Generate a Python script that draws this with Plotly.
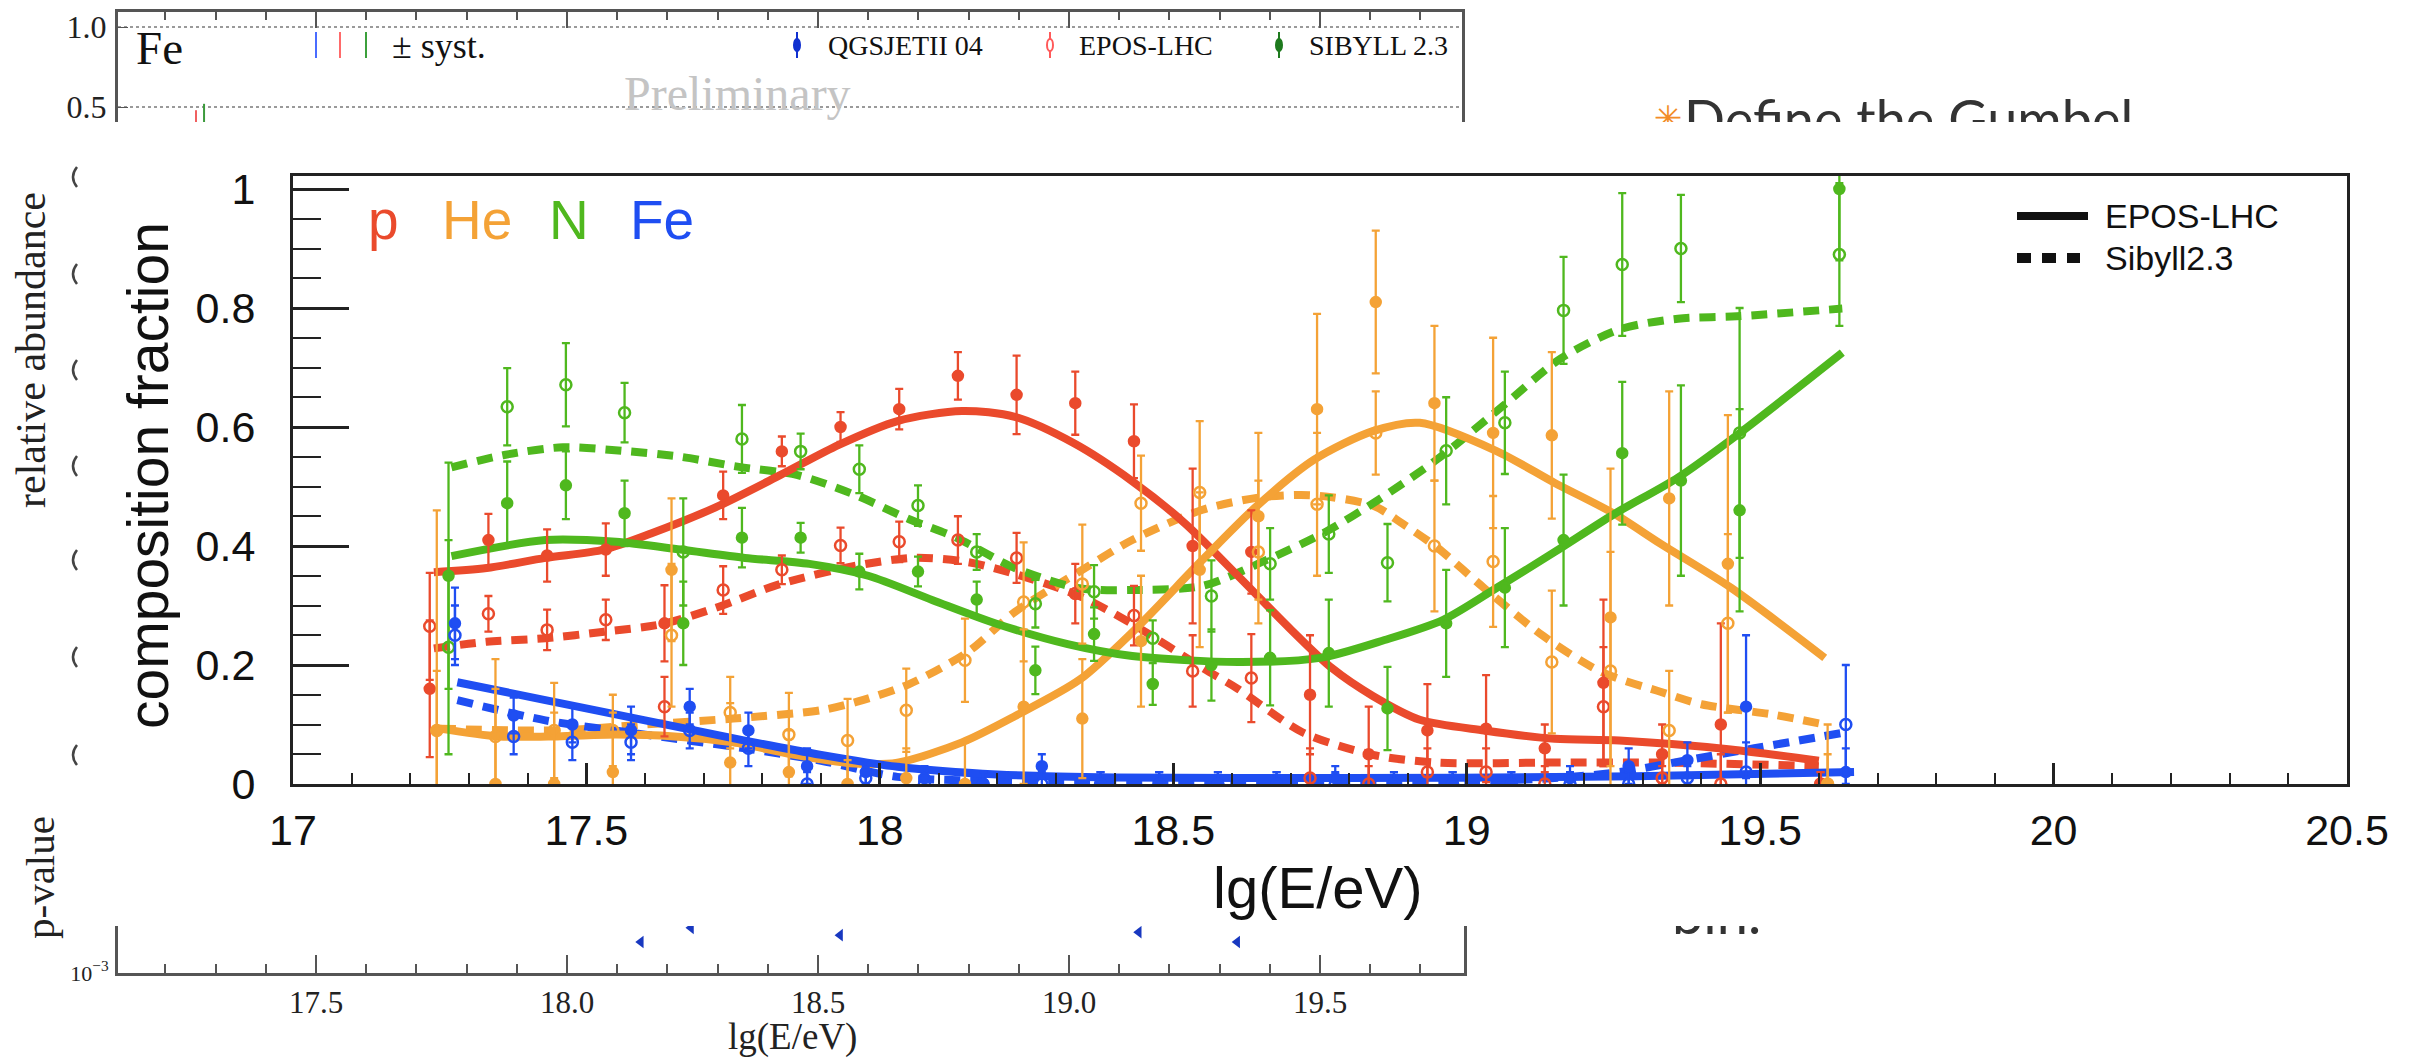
import plotly.graph_objects as go

W, H = 2418, 1058

# ---------------- overlay chart: composition fractions ----------------
lgE = [17.25, 17.35, 17.45, 17.55, 17.65, 17.75, 17.85, 17.95, 18.05, 18.15,
       18.25, 18.35, 18.45, 18.55, 18.65, 18.75, 18.85, 18.95, 19.05, 19.15,
       19.25, 19.35, 19.45, 19.62]

p_epos = [0.16, 0.41, 0.384, 0.394, 0.27, 0.485, 0.559, 0.60, 0.63, 0.686, 0.654, 0.64,
          0.576, 0.40, 0.39, 0.15, 0.05, 0.09, 0.093, 0.06, 0.17, 0.05, 0.10, 0.0]
p_epos_err = [0.115, 0.044, 0.044, 0.044, 0.064, 0.04, 0.025, 0.025, 0.034, 0.04, 0.066, 0.053,
              0.062, 0.13, 0.07, 0.1, 0.08, 0.078, 0.09, 0.04, 0.14, 0.05, 0.17, 0.02]
p_sib = [0.265, 0.286, 0.259, 0.276, 0.13, 0.326, 0.36, 0.401, 0.407, 0.41, 0.38, 0.32,
         0.283, 0.19, 0.178, 0.01, 0.0, 0.02, 0.02, 0.0, 0.13, 0.01, 0.0, 0.0]
p_sib_err = [0.09, 0.03, 0.034, 0.034, 0.05, 0.04, 0.024, 0.03, 0.034, 0.04, 0.042, 0.05,
             0.05, 0.06, 0.074, 0.05, 0.03, 0.04, 0.04, 0.03, 0.1, 0.02, 0.05, 0.02]

he_epos = [0.09, 0.0, 0.0, 0.02, 0.36, 0.036, 0.02, 0.0, 0.01, 0.0, 0.13, 0.11,
           0.24, 0.36, 0.45, 0.63, 0.81, 0.64, 0.59, 0.586, 0.28, 0.48, 0.37, 0.0]
he_epos_err = [0.37, 0.21, 0.12, 0.1, 0.12, 0.1, 0.07, 0.04, 0.05, 0.07, 0.13, 0.1,
               0.11, 0.13, 0.14, 0.16, 0.12, 0.13, 0.16, 0.14, 0.25, 0.18, 0.25, 0.1]
he_sib = [0.09, 0.08, 0.09, 0.09, 0.25, 0.12, 0.083, 0.073, 0.124, 0.208, 0.306, 0.336,
          0.472, 0.49, 0.39, 0.47, 0.59, 0.40, 0.374, 0.205, 0.19, 0.09, 0.27, 0.0]
he_sib_err = [0.1, 0.08, 0.08, 0.06, 0.12, 0.06, 0.07, 0.07, 0.07, 0.07, 0.1, 0.1,
              0.08, 0.12, 0.12, 0.12, 0.07, 0.11, 0.11, 0.12, 0.2, 0.1, 0.15, 0.05]

n_epos = [0.35, 0.472, 0.502, 0.455, 0.27, 0.414, 0.414, 0.357, 0.357, 0.31, 0.191, 0.252,
          0.168, 0.2, 0.212, 0.22, 0.127, 0.27, 0.33, 0.41, 0.556, 0.51, 0.46, 1.0]
n_epos_err = [0.19, 0.07, 0.057, 0.055, 0.07, 0.05, 0.025, 0.03, 0.025, 0.03, 0.04, 0.045,
              0.035, 0.06, 0.08, 0.09, 0.07, 0.09, 0.1, 0.11, 0.12, 0.16, 0.17, 0.12]
n_sib = [0.23, 0.634, 0.671, 0.624, 0.39, 0.58, 0.559, 0.529, 0.468, 0.39, 0.303, 0.323,
         0.245, 0.316, 0.37, 0.42, 0.372, 0.56, 0.607, 0.796, 0.873, 0.90, 0.59, 0.89]
n_sib_err = [0.18, 0.065, 0.07, 0.05, 0.09, 0.057, 0.03, 0.04, 0.034, 0.03, 0.04, 0.045,
             0.03, 0.06, 0.06, 0.065, 0.065, 0.09, 0.086, 0.09, 0.12, 0.09, 0.21, 0.12]

fe_epos = [0.27, 0.115, 0.10, 0.09, 0.13, 0.09, 0.03, 0.02, 0.01, 0.0, 0.03, 0.0,
           0.0, 0.0, 0.0, 0.01, 0.0, 0.0, 0.0, 0.01, 0.03, 0.04, 0.13, 0.02]
fe_epos_err = [0.06, 0.03, 0.03, 0.04, 0.03, 0.03, 0.03, 0.02, 0.02, 0.02, 0.02, 0.02,
               0.02, 0.02, 0.02, 0.02, 0.02, 0.02, 0.02, 0.02, 0.03, 0.03, 0.12, 0.04]
fe_sib = [0.25, 0.08, 0.07, 0.07, 0.09, 0.06, 0.0, 0.01, 0.0, 0.0, 0.0, 0.0,
          0.0, 0.0, 0.0, 0.0, 0.0, 0.0, 0.0, 0.0, 0.0, 0.01, 0.02, 0.10]
fe_sib_err = [0.05, 0.03, 0.03, 0.03, 0.03, 0.03, 0.02, 0.02, 0.02, 0.02, 0.02, 0.02,
              0.02, 0.02, 0.02, 0.02, 0.02, 0.02, 0.02, 0.02, 0.02, 0.02, 0.05, 0.1]

# fitted curves (EPOS-LHC solid, Sibyll2.3 dashed)
fit_p_epos_x = [17.24, 17.33, 17.43, 17.53, 17.61, 17.72, 17.83, 17.93, 18.03, 18.14, 18.23, 18.33,
                18.43, 18.52, 18.61, 18.70, 18.77, 18.84, 18.92, 19.03, 19.15, 19.26, 19.45, 19.60]
fit_p_epos_y = [0.356, 0.363, 0.38, 0.394, 0.421, 0.465, 0.519, 0.57, 0.61, 0.627, 0.617, 0.573,
                0.509, 0.438, 0.35, 0.26, 0.195, 0.148, 0.108, 0.09, 0.076, 0.073, 0.058, 0.039]
fit_he_epos_x = [17.25, 17.35, 17.45, 17.55, 17.65, 17.75, 17.85, 17.95, 18.03, 18.14, 18.23, 18.34,
                 18.43, 18.55, 18.64, 18.74, 18.84, 18.92, 19.05, 19.15, 19.25, 19.33, 19.45, 19.61]
fit_he_epos_y = [0.093, 0.08, 0.08, 0.083, 0.08, 0.07, 0.05, 0.035, 0.036, 0.07, 0.114, 0.175,
                 0.255, 0.377, 0.465, 0.545, 0.593, 0.607, 0.56, 0.506, 0.455, 0.404, 0.33, 0.212]
fit_n_epos_x = [17.27, 17.43, 17.55, 17.66, 17.77, 17.88, 17.98, 18.09, 18.2, 18.32, 18.43,
                18.61, 18.75, 18.86, 18.96, 19.05, 19.15, 19.25, 19.36, 19.46, 19.64]
fit_n_epos_y = [0.383, 0.41, 0.407, 0.394, 0.38, 0.37, 0.35, 0.309, 0.269, 0.235, 0.215,
                0.205, 0.212, 0.242, 0.276, 0.329, 0.39, 0.453, 0.515, 0.586, 0.725]
fit_fe_epos_x = [17.28, 17.43, 17.6, 17.77, 17.9, 18.03, 18.2, 18.4, 18.8, 19.2, 19.4, 19.66]
fit_fe_epos_y = [0.171, 0.141, 0.107, 0.073, 0.049, 0.029, 0.016, 0.011, 0.01, 0.012, 0.015, 0.02]

fit_p_sib_x = [17.24, 17.33, 17.43, 17.53, 17.63, 17.72, 17.83, 17.96, 18.06, 18.15, 18.23,
               18.34, 18.43, 18.55, 18.61, 18.72, 18.84, 18.95, 19.15, 19.33, 19.6]
fit_p_sib_y = [0.228, 0.239, 0.245, 0.256, 0.269, 0.296, 0.336, 0.367, 0.38, 0.373, 0.353,
               0.316, 0.269, 0.195, 0.16, 0.087, 0.049, 0.036, 0.036, 0.036, 0.03]
fit_he_sib_x = [17.25, 17.45, 17.6, 17.75, 17.9, 17.96, 18.05, 18.15, 18.23, 18.34, 18.43, 18.55,
                18.65, 18.74, 18.84, 18.89, 18.95, 19.03, 19.13, 19.23, 19.33, 19.4, 19.52, 19.61]
fit_he_sib_y = [0.093, 0.09, 0.1, 0.11, 0.124, 0.138, 0.168, 0.222, 0.289, 0.357, 0.41, 0.461,
                0.482, 0.485, 0.468, 0.438, 0.397, 0.329, 0.249, 0.188, 0.155, 0.134, 0.117, 0.10]
fit_n_sib_x = [17.27, 17.36, 17.46, 17.56, 17.66, 17.76, 17.86, 17.96, 18.05, 18.13, 18.23, 18.34,
               18.43, 18.55, 18.66, 18.76, 18.85, 18.95, 19.06, 19.16, 19.26, 19.36, 19.46, 19.64]
fit_n_sib_y = [0.532, 0.553, 0.566, 0.56, 0.55, 0.533, 0.519, 0.485, 0.445, 0.414, 0.363, 0.329,
               0.326, 0.333, 0.377, 0.424, 0.478, 0.546, 0.634, 0.715, 0.764, 0.782, 0.786, 0.799]
fit_fe_sib_x = [17.28, 17.43, 17.6, 17.77, 17.9, 18.03, 18.2, 18.6, 19.0, 19.15, 19.26, 19.375, 19.49, 19.647]
fit_fe_sib_y = [0.141, 0.107, 0.083, 0.06, 0.039, 0.012, 0.005, 0.003, 0.005, 0.01, 0.02, 0.04, 0.06, 0.087]

species = ["p", "He", "N", "Fe"]

# ---------------- background chart (partly hidden) ----------------
bg_fe_lgE = [17.261, 17.277]
bg_fe_vals = [0.30, 0.28]
bg_fe_errs = [0.18, 0.24]
bg_pval_lgE = [18.147, 18.247, 18.544, 19.139, 19.335]
bg_pval = [0.0035, 0.0062, 0.0046, 0.0052, 0.0035]
bg_xticks = [17.5, 18.0, 18.5, 19.0, 19.5]

# ---------------- styling ----------------
COL = {"p": "#ea4a2c", "He": "#f4a236", "N": "#4fb81e", "Fe": "#1f4ef2"}
OFF = {"p": -0.017, "He": -0.005, "N": 0.015, "Fe": 0.026}
SANS = "Liberation Sans, Arial, sans-serif"
SERIF = "Liberation Serif, Times New Roman, serif"
CLEAR = "rgba(0,0,0,0)"


def tx(x):
    return x / W


def ty(y):
    return 1 - y / H


fig = go.Figure()

fits = [
    ("p", fit_p_sib_x, fit_p_sib_y, True), ("He", fit_he_sib_x, fit_he_sib_y, True),
    ("N", fit_n_sib_x, fit_n_sib_y, True), ("Fe", fit_fe_sib_x, fit_fe_sib_y, True),
    ("p", fit_p_epos_x, fit_p_epos_y, False), ("He", fit_he_epos_x, fit_he_epos_y, False),
    ("N", fit_n_epos_x, fit_n_epos_y, False), ("Fe", fit_fe_epos_x, fit_fe_epos_y, False),
]
for sp, fx, fy, dashed in fits:
    fig.add_trace(go.Scatter(
        x=fx, y=fy, mode="lines", showlegend=False, hoverinfo="skip",
        line=dict(color=COL[sp], width=8, shape="spline", smoothing=0.8,
                  dash="16px,10px" if dashed else "solid"),
        xaxis="x", yaxis="y"))

points = [
    ("p", p_epos, p_epos_err, p_sib, p_sib_err),
    ("He", he_epos, he_epos_err, he_sib, he_sib_err),
    ("N", n_epos, n_epos_err, n_sib, n_sib_err),
    ("Fe", fe_epos, fe_epos_err, fe_sib, fe_sib_err),
]
for sp, ev, ee, sv, se in points:
    xs = [e + OFF[sp] for e in lgE]
    for vals, errs, sym in ((sv, se, "circle-open"), (ev, ee, "circle")):
        fig.add_trace(go.Scatter(
            x=xs, y=vals, mode="markers", showlegend=False, hoverinfo="skip",
            marker=dict(symbol=sym, size=10 if sym == "circle" else 11, color=COL[sp],
                        line=dict(color=COL[sp], width=2.5)),
            error_y=dict(type="data", array=errs, symmetric=True, color=COL[sp],
                         thickness=2.3, width=4),
            xaxis="x", yaxis="y"))

# background top panel data (error bars only partly visible)
for c, xv, vv, ev in (("#f06060", bg_fe_lgE[0], bg_fe_vals[0], bg_fe_errs[0]),
                      ("#3c9a3c", bg_fe_lgE[1], bg_fe_vals[1], bg_fe_errs[1])):
    fig.add_trace(go.Scatter(
        x=[xv], y=[vv], mode="markers", showlegend=False, hoverinfo="skip",
        marker=dict(size=6, color=c), cliponaxis=True,
        error_y=dict(type="data", array=[ev], color=c, thickness=2, width=0),
        xaxis="x2", yaxis="y2"))

# background p-value panel
fig.add_trace(go.Scatter(
    x=bg_pval_lgE, y=bg_pval, mode="markers", showlegend=False, hoverinfo="skip",
    marker=dict(symbol="triangle-left", size=11, color="#1838c0"), cliponaxis=True,
    xaxis="x3", yaxis="y3"))

# slide text partly hidden behind the overlay
fig.add_trace(go.Scatter(
    x=[1684], y=[125], mode="text", text=["Define the Gumbel"], textposition="middle right",
    textfont=dict(family="Lato, Open Sans, sans-serif", size=54, color="#333333"),
    showlegend=False, hoverinfo="skip", cliponaxis=True, xaxis="x4", yaxis="y4"))
fig.add_trace(go.Scatter(
    x=[1668], y=[121], mode="text", text=["✳"], textposition="middle center",
    textfont=dict(family="DejaVu Sans", size=34, color="#f28c28"),
    showlegend=False, hoverinfo="skip", cliponaxis=True, xaxis="x4", yaxis="y4"))
fig.add_trace(go.Scatter(
    x=[1672], y=[920], mode="text", text=["bin."], textposition="middle right",
    textfont=dict(family="Lato, Open Sans, sans-serif", size=56, color="#333333"),
    showlegend=False, hoverinfo="skip", cliponaxis=True, xaxis="x5", yaxis="y5"))

axis_line = dict(showline=True, linecolor="#222222", linewidth=3, showgrid=False, zeroline=False)
bg_x0 = 17.5 + (118 - 316) / 502
bg_x1 = 17.5 + (1464 - 316) / 502

fig.update_layout(
    width=W, height=H, autosize=False,
    margin=dict(l=0, r=0, t=0, b=0, pad=0, autoexpand=False),
    paper_bgcolor="white", plot_bgcolor=CLEAR,
    showlegend=False,
    xaxis=dict(domain=[tx(293), tx(2347)], range=[17, 20.5], anchor="y", mirror=True,
               automargin=False,
               ticks="inside", ticklen=21, tickwidth=2.5, tickcolor="#222222",
               dtick=0.5, tick0=17,
               minor=dict(dtick=0.1, ticklen=11, tickwidth=2, ticks="inside", tickcolor="#222222"),
               tickfont=dict(family=SANS, size=43, color="#111111"), ticklabelstandoff=6,
               **axis_line),
    yaxis=dict(domain=[ty(784), ty(176)], range=[0, (784 - 176) / 595], anchor="x", mirror=True,
               automargin=False,
               ticks="inside", ticklen=56, tickwidth=2.5, tickcolor="#222222",
               dtick=0.2, tick0=0,
               minor=dict(dtick=0.05, ticklen=28, tickwidth=2, ticks="inside", tickcolor="#222222"),
               tickfont=dict(family=SANS, size=43, color="#111111"), ticklabelstandoff=26,
               **axis_line),
    xaxis2=dict(domain=[tx(118), tx(1462)], range=[bg_x0, 17.5 + (1462 - 316) / 502], anchor="y2",
                automargin=False,
                side="top", showline=True, linecolor="#555555", linewidth=3, showgrid=False,
                zeroline=False, ticks="inside", ticklen=16, tickwidth=2, tickcolor="#555555",
                dtick=0.5, tick0=17.5, showticklabels=False,
                minor=dict(dtick=0.1, ticklen=8, tickwidth=1.5, ticks="inside", tickcolor="#555555")),
    yaxis2=dict(domain=[ty(122), ty(12)], range=[1 - (122 - 27) / 160, 1 - (12 - 27) / 160],
                anchor="x2", automargin=False,
                showline=True, mirror=True, linecolor="#555555", linewidth=3,
                zeroline=False, showgrid=True, gridcolor="#9a9a9a", griddash="dot", gridwidth=2,
                tickvals=[0.5, 1.0], ticktext=["0.5", "1.0"], ticks="inside", ticklen=10,
                tickcolor="#555555", tickfont=dict(family=SERIF, size=32, color="#222222"),
                ticklabelstandoff=2),
    xaxis3=dict(domain=[tx(118), tx(1464)], range=[bg_x0, bg_x1], anchor="y3", automargin=False,
                showline=True, linecolor="#555555", linewidth=3, showgrid=False, zeroline=False,
                ticks="inside", ticklen=18, tickwidth=2, tickcolor="#555555",
                tickvals=bg_xticks, tickformat=".1f",
                minor=dict(dtick=0.1, ticklen=9, tickwidth=1.5, ticks="inside", tickcolor="#555555"),
                tickfont=dict(family=SERIF, size=31, color="#222222"), ticklabelstandoff=0),
    yaxis3=dict(domain=[ty(973), ty(926)], type="log", range=[-3, -3 + 47 / 57], anchor="x3",
                automargin=False,
                showline=True, mirror=True, linecolor="#555555", linewidth=3, showgrid=False,
                zeroline=False, tickvals=[0.001], ticktext=["10<sup>−3</sup>"], ticks="",
                tickfont=dict(family=SERIF, size=22, color="#222222"), ticklabelstandoff=2),
    xaxis4=dict(domain=[0, 1], range=[0, W], anchor="y4", visible=False, automargin=False,
                showticklabels=False),
    yaxis4=dict(domain=[ty(122), 1], range=[122, 0], anchor="x4", visible=False, automargin=False,
                showticklabels=False),
    xaxis5=dict(domain=[0, 1], range=[0, W], anchor="y5", visible=False, automargin=False,
                showticklabels=False),
    yaxis5=dict(domain=[0, ty(926)], range=[H, 926], anchor="x5", visible=False, automargin=False,
                showticklabels=False),
)

ann = []


def add_text(text, x, y, size, family=SANS, color="#111111", xanchor="center", angle=0):
    ann.append(dict(text=text, x=tx(x), y=ty(y), xref="paper", yref="paper",
                    xanchor=xanchor, yanchor="middle", showarrow=False, textangle=angle,
                    font=dict(family=family, size=size, color=color)))


# overlay chart texts
add_text("composition fraction", 148, 476, 57, angle=-90)
add_text("lg(E/eV)", 1318, 887, 58)
for sp, xc in zip(species, (383, 477, 569, 662)):
    add_text(sp, xc, 220, 55, color=COL[sp])
add_text("EPOS-LHC", 2103, 216, 34, xanchor="left")
add_text("Sibyll2.3", 2103, 258, 34, xanchor="left")

# background chart texts
add_text("relative abundance", 31, 350, 42, family=SERIF, color="#222222", angle=-90)
add_text("p-value", 40, 878, 41, family=SERIF, color="#222222", angle=-90)
add_text("Fe", 134, 48, 47, family=SERIF, color="#111111", xanchor="left")
add_text("± syst.", 390, 46, 36, family=SERIF, color="#111111", xanchor="left")
add_text("QGSJETII 04", 826, 46, 28, family=SERIF, color="#111111", xanchor="left")
add_text("EPOS-LHC", 1077, 46, 28, family=SERIF, color="#111111", xanchor="left")
add_text("SIBYLL 2.3", 1307, 46, 28, family=SERIF, color="#111111", xanchor="left")
add_text("Preliminary", 737, 94, 48, family=SERIF, color="#c4c4c4")
add_text("lg(E/eV)", 792, 1037, 37, family=SERIF, color="#222222")

fig.update_layout(annotations=ann)

shapes = []
# overlay legend line samples
shapes.append(dict(type="line", xref="paper", yref="paper", x0=tx(2017), x1=tx(2088),
                   y0=ty(216), y1=ty(216), line=dict(color="#111111", width=8)))
shapes.append(dict(type="line", xref="paper", yref="paper", x0=tx(2017), x1=tx(2080),
                   y0=ty(258), y1=ty(258), line=dict(color="#111111", width=10, dash="14px,11px")))
# background legend: systematic bars
for xx, c in ((316, "#4a6cff"), (340, "#ff6a6a"), (366, "#3ca03c")):
    shapes.append(dict(type="line", xref="paper", yref="paper", x0=tx(xx), x1=tx(xx),
                       y0=ty(32), y1=ty(58), line=dict(color=c, width=2)))
# background legend: model markers
for xx, c, filled in ((797, "#1030d0", True), (1050, "#ff5a5a", False), (1279, "#1e7a1e", True)):
    shapes.append(dict(type="line", xref="paper", yref="paper", x0=tx(xx), x1=tx(xx),
                       y0=ty(32), y1=ty(58), line=dict(color=c, width=2)))
    shapes.append(dict(type="circle", xref="paper", yref="paper", x0=tx(xx - 3), x1=tx(xx + 3),
                       y0=ty(51), y1=ty(39), line=dict(color=c, width=2),
                       fillcolor=c if filled else "white"))
# partially hidden tick labels of the background chart ("(" shapes)
for yy in (177, 274, 370, 466, 560, 657, 755):
    shapes.append(dict(type="path", xref="paper", yref="paper",
                       path=f"M {tx(77):.5f},{ty(yy - 10):.5f} Q {tx(69):.5f},{ty(yy):.5f} {tx(77):.5f},{ty(yy + 10):.5f}",
                       line=dict(color="#444444", width=2.5)))
fig.update_layout(shapes=shapes)

fig.write_html("out.html", config={"displayModeBar": False},
               post_script="document.body.style.margin='0';")
